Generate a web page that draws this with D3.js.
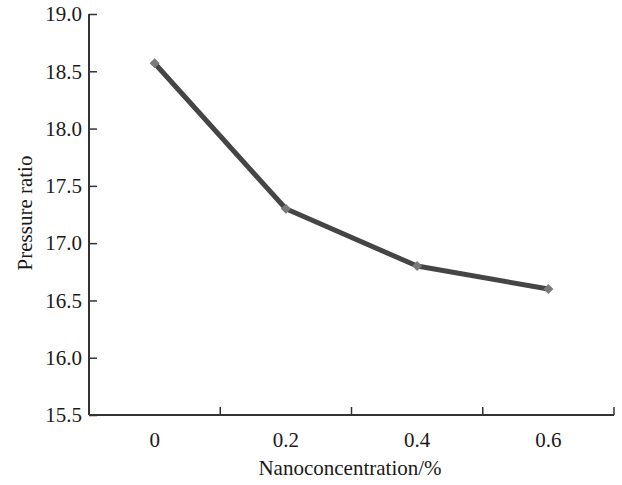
<!DOCTYPE html>
<html>
<head>
<meta charset="utf-8">
<script src="https://cdn.jsdelivr.net/npm/d3@7"></script>
<style>
    body { margin: 0; background: #fff; }
    text { font-family: "Liberation Serif", "DejaVu Serif", serif; fill: #1a1a1a; }
</style>
</head>
<body>
<svg id="chart" width="622" height="485"></svg>
<script>
var categories = ["0", "0.2", "0.4", "0.6"];
var pressureRatio = [18.57, 17.3, 16.8, 16.6];
var yTicks = [15.5, 16.0, 16.5, 17.0, 17.5, 18.0, 18.5, 19.0];

var svg = d3.select("#chart");

// plot area edges
var plotLeft = 89, plotRight = 614, plotTop = 14, plotBottom = 415;
const FONT = "21px";

var x = d3.scaleBand()
    .domain(categories)
    .range([plotLeft, plotRight]);

var y = d3.scaleLinear()
    .domain([15.5, 19.0])
    .range([plotBottom, plotTop]);

// y axis, ticks point inward
var yAxis = svg.append("g")
    .attr("transform", "translate(" + plotLeft + ",0)")
    .call(d3.axisRight(y).tickValues(yTicks).tickSize(8).tickFormat(""));
yAxis.select(".domain").remove();
yAxis.selectAll("line").attr("stroke", "#333").attr("stroke-width", 1.5);

svg.append("line")
    .attr("x1", plotLeft).attr("x2", plotLeft)
    .attr("y1", plotTop).attr("y2", plotBottom)
    .attr("stroke", "#333").attr("stroke-width", 2);

svg.selectAll(".ylab")
    .data(yTicks)
    .enter().append("text")
    .attr("class", "ylab")
    .attr("x", plotLeft - 7)
    .attr("y", function(d) { return y(d); })
    .attr("dy", "0.35em")
    .attr("text-anchor", "end")
    .style("font-size", FONT)
    .text(function(d) { return d.toFixed(1); });

// x axis, ticks at band edges pointing up
svg.append("line")
    .attr("x1", plotLeft).attr("x2", plotRight)
    .attr("y1", plotBottom).attr("y2", plotBottom)
    .attr("stroke", "#333").attr("stroke-width", 2);

svg.selectAll(".xtick")
    .data(categories)
    .enter().append("line")
    .attr("class", "xtick")
    .attr("x1", function(d) { return x(d) + x.bandwidth(); })
    .attr("x2", function(d) { return x(d) + x.bandwidth(); })
    .attr("y1", plotBottom)
    .attr("y2", plotBottom - 8)
    .attr("stroke", "#333").attr("stroke-width", 1.5);

svg.selectAll(".xlab")
    .data(categories)
    .enter().append("text")
    .attr("class", "xlab")
    .attr("x", function(d) { return x(d) + x.bandwidth() / 2; })
    .attr("y", 447)
    .attr("text-anchor", "middle")
    .style("font-size", FONT)
    .text(function(d) { return d; });

// axis titles
svg.append("text")
    .attr("x", 350)
    .attr("y", 475)
    .attr("text-anchor", "middle")
    .style("font-size", FONT)
    .text("Nanoconcentration/%");

svg.append("text")
    .attr("transform", "translate(32,213) rotate(-90)")
    .attr("text-anchor", "middle")
    .style("font-size", FONT)
    .text("Pressure ratio");

// series line
var points = categories.map(function(c, i) { return { c: c, v: pressureRatio[i] }; });

var line = d3.line()
    .x(function(d) { return x(d.c) + x.bandwidth() / 2; })
    .y(function(d) { return y(d.v); });

svg.append("path")
    .datum(points)
    .attr("d", line)
    .attr("fill", "none")
    .attr("stroke", "#454545")
    .attr("stroke-width", 5)
    .attr("stroke-linejoin", "round");

// square markers turned 45 degrees
svg.selectAll(".marker")
    .data(points)
    .enter().append("path")
    .attr("class", "marker")
    .attr("d", d3.symbol().type(d3.symbolSquare).size(50))
    .attr("transform", function(d) {
        return "translate(" + (x(d.c) + x.bandwidth() / 2) + "," + y(d.v) + ") rotate(45)";
    })
    .attr("fill", "#7a7a7a");
</script>
</body>
</html>
